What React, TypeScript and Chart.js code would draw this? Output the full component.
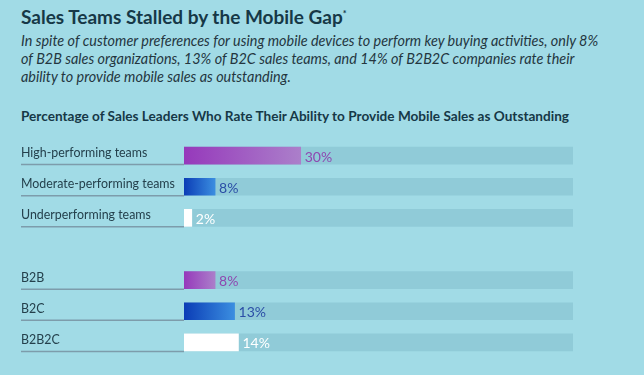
import React, { useEffect, useRef } from "react";
import { Chart, registerables } from "chart.js";

Chart.register(...registerables);

const categories = [
  "High-performing teams",
  "Moderate-performing teams",
  "Underperforming teams",
  "",
  "B2B",
  "B2C",
  "B2B2C",
];
const values: (number | null)[] = [30, 8, 2, null, 8, 13, 14];
const valueLabels = ["30%", "8%", "2%", "", "8%", "13%", "14%"];
const trackValues: (number | null)[] = [100, 100, 100, null, 100, 100, 100];
const colorKinds = ["purple", "blue", "white", "", "purple", "blue", "white"];

const BG = "#a1dbe6";
const TRACK = "#90cbd8";
const LABEL_FONT = "Lato, 'Open Sans', sans-serif";

const gradStops: Record<string, [string, string]> = {
  purple: ["#9639bb", "#ab7fca"],
  blue: ["#0b3db6", "#3b8ee0"],
  white: ["#ffffff", "#ffffff"],
};
const textColors: Record<string, string> = {
  purple: "#8e48b0",
  blue: "#2b4ea6",
  white: "#ffffff",
};

export default function App() {
  const ref = useRef<HTMLCanvasElement | null>(null);

  useEffect(() => {
    if (!ref.current) return;
    const labelPlugin = {
      id: "labels",
      afterDatasetsDraw(chart: any) {
        const ctx = chart.ctx;
        const meta = chart.getDatasetMeta(1);
        const xScale = chart.scales.x;
        const x0 = xScale.getPixelForValue(0);
        ctx.save();
        meta.data.forEach((bar: any, i: number) => {
          if (values[i] == null) return;
          const top = bar.y - bar.height / 2;
          const bottom = bar.y + bar.height / 2;
          // category label with underline
          ctx.fillStyle = "#24404c";
          ctx.font = `12.4px ${LABEL_FONT}`;
          ctx.textAlign = "left";
          ctx.textBaseline = "alphabetic";
          ctx.fillText(categories[i], 21, top + 10);
          ctx.strokeStyle = "#7d9cab";
          ctx.lineWidth = 1.5;
          ctx.beginPath();
          ctx.moveTo(21, bottom + 0.5);
          ctx.lineTo(x0, bottom + 0.5);
          ctx.stroke();
          // value label
          ctx.fillStyle = textColors[colorKinds[i]];
          ctx.font = `14px ${LABEL_FONT}`;
          ctx.textBaseline = "middle";
          ctx.fillText(valueLabels[i], bar.x + 4, bar.y + 1.5);
        });
        ctx.restore();
      },
    };

    const chart = new Chart(ref.current, {
      type: "bar",
      data: {
        labels: categories,
        datasets: [
          {
            data: trackValues,
            backgroundColor: TRACK,
            order: 2,
            grouped: false,
            barThickness: 17,
          } as any,
          {
            data: values,
            order: 1,
            grouped: false,
            barThickness: 17,
            backgroundColor: (c: any) => {
              const kind = colorKinds[c.dataIndex];
              const stops = gradStops[kind];
              if (!stops) return "#fff";
              const chart = c.chart;
              const xs = chart.scales && chart.scales.x;
              if (!chart.chartArea || !xs) return stops[0];
              const a = xs.getPixelForValue(0);
              const b = xs.getPixelForValue(values[c.dataIndex] ?? 0);
              const g = chart.ctx.createLinearGradient(a, 0, Math.max(b, a + 1), 0);
              g.addColorStop(0, stops[0]);
              g.addColorStop(1, stops[1]);
              return g;
            },
          } as any,
        ],
      },
      options: {
        indexAxis: "y",
        animation: false,
        responsive: false,
        maintainAspectRatio: false,
        layout: { padding: { left: 184, right: 71, top: 140, bottom: 17 } },
        plugins: { legend: { display: false }, tooltip: { enabled: false } },
        scales: {
          x: { display: false, min: 0, max: 100, grid: { display: false } },
          y: { display: false, grid: { display: false } },
        },
      },
      plugins: [labelPlugin],
    });
    return () => chart.destroy();
  }, []);

  return (
    <div
      style={{
        position: "fixed",
        left: 0,
        top: 0,
        width: 644,
        height: 375,
        background: BG,
        overflow: "hidden",
      }}
    >
      <div
        style={{
          position: "absolute",
          left: 21,
          top: 5,
          fontFamily: LABEL_FONT,
          fontWeight: 700,
          fontSize: 19,
          color: "#163847",
          whiteSpace: "nowrap",
        }}
      >
        Sales Teams Stalled by the Mobile Gap<sup style={{ fontSize: 9 }}>*</sup>
      </div>
      <div
        style={{
          position: "absolute",
          left: 21,
          top: 32,
          width: 620,
          fontFamily: LABEL_FONT,
          fontStyle: "italic",
          fontSize: 14.4,
          lineHeight: "18px",
          color: "#24363f",
          whiteSpace: "nowrap",
        }}
      >
        In spite of customer preferences for using mobile devices to perform key buying activities, only 8%
        <br />
        of B2B sales organizations, 13% of B2C sales teams, and 14% of B2B2C companies rate their
        <br />
        ability to provide mobile sales as outstanding.
      </div>
      <div
        style={{
          position: "absolute",
          left: 21,
          top: 108,
          fontFamily: LABEL_FONT,
          fontWeight: 700,
          fontSize: 13.6,
          color: "#163847",
          whiteSpace: "nowrap",
        }}
      >
        Percentage of Sales Leaders Who Rate Their Ability to Provide Mobile Sales as Outstanding
      </div>
      <canvas
        ref={ref}
        width={644}
        height={375}
        style={{ position: "absolute", left: 0, top: 0 }}
      />
    </div>
  );
}
